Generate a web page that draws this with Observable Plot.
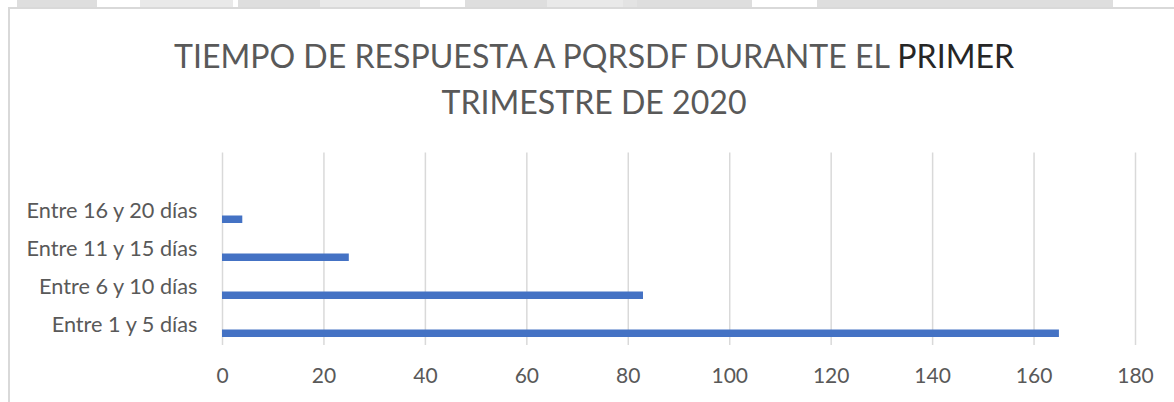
<!DOCTYPE html>
<html>
<head>
<meta charset="utf-8">
<script src="https://cdn.jsdelivr.net/npm/d3@7"></script>
<script src="https://cdn.jsdelivr.net/npm/@observablehq/plot@0.6"></script>
<style>
  html, body { margin: 0; padding: 0; background: #fff; width: 1174px; height: 402px; overflow: hidden; }
  #page { position: relative; width: 1174px; height: 402px; font-family: Lato, "Open Sans", sans-serif; }
  .seg { position: absolute; top: 0; height: 7px; }
  #hline { position: absolute; left: 9px; top: 7px; width: 1165px; height: 1.5px; background: #d9d9d9; }
  #vline { position: absolute; left: 8px; top: 7px; width: 1.5px; height: 395px; background: #d9d9d9; }
  #title { position: absolute; left: 0; top: 0; width: 1188px; height: 130px; text-align: center;
           font-family: Lato, sans-serif; font-weight: 400; font-size: 32.1px; color: #595959; }
  #title .l1 { position: absolute; left: 0; width: 100%; top: 35.5px; }
  #title .l2 { position: absolute; left: 0; width: 100%; top: 81.5px; }
  #title .dark { color: #262626; }
  #chart { position: absolute; left: 0; top: 130px; }
</style>
</head>
<body>
<div id="page">
  <div id="title"><div class="l1">TIEMPO DE RESPUESTA A PQRSDF DURANTE EL <span class="dark">PRIMER</span></div><div class="l2">TRIMESTRE DE 2020</div></div>
  <div id="chart"></div>
  <div id="hline"></div>
  <div id="vline"></div>
</div>
<script>
// Data
const categories = ["Entre 16 y 20 días", "Entre 11 y 15 días", "Entre 6 y 10 días", "Entre 1 y 5 días"];
const values = [4, 25, 83, 165];
const xTicks = [0, 20, 40, 60, 80, 100, 120, 140, 160, 180];

// decorative page band at top (from the screenshot's surrounding page)
const bandSegs = [[17, 97, "#dedede"], [140, 233, "#e9e9e9"], [238, 320, "#dedede"], [320, 420, "#e9e9e9"],
                  [465, 547, "#dedede"], [547, 623, "#e9e9e9"], [623, 637, "#e3e3e3"], [637, 752, "#dedede"],
                  [817, 1113, "#dedede"]];
const page = document.getElementById("page");
for (const [a, b, c] of bandSegs) {
  const d = document.createElement("div");
  d.className = "seg";
  d.style.left = a + "px";
  d.style.width = (b - a) + "px";
  d.style.background = c;
  page.appendChild(d);
}

const rows = categories.map((c, i) => ({category: c, value: values[i]}));

const chart = Plot.plot({
  width: 1174,
  height: 272,
  marginLeft: 222,
  marginRight: 39,
  marginTop: 22.5,
  marginBottom: 57,
  style: {fontFamily: "Lato, sans-serif", background: "transparent"},
  x: {domain: [0, 180], ticks: xTicks},
  y: {domain: categories, padding: 0, insetTop: 38.5},
  marks: [
    Plot.ruleX(xTicks, {stroke: "#d9d9d9", strokeWidth: 1.5}),
    Plot.barX(rows, {x: "value", y: "category", fill: "#4472C4", insetTop: 23.5, insetBottom: 7}),
    Plot.axisX({ticks: xTicks, tickSize: 0, tickPadding: 23, fontSize: 21, fill: "#595959", label: null}),
    Plot.axisY({tickSize: 0, tickPadding: 25, fontSize: 21.7, fill: "#595959", label: null})
  ]
});
document.getElementById("chart").appendChild(chart);
</script>
</body>
</html>
